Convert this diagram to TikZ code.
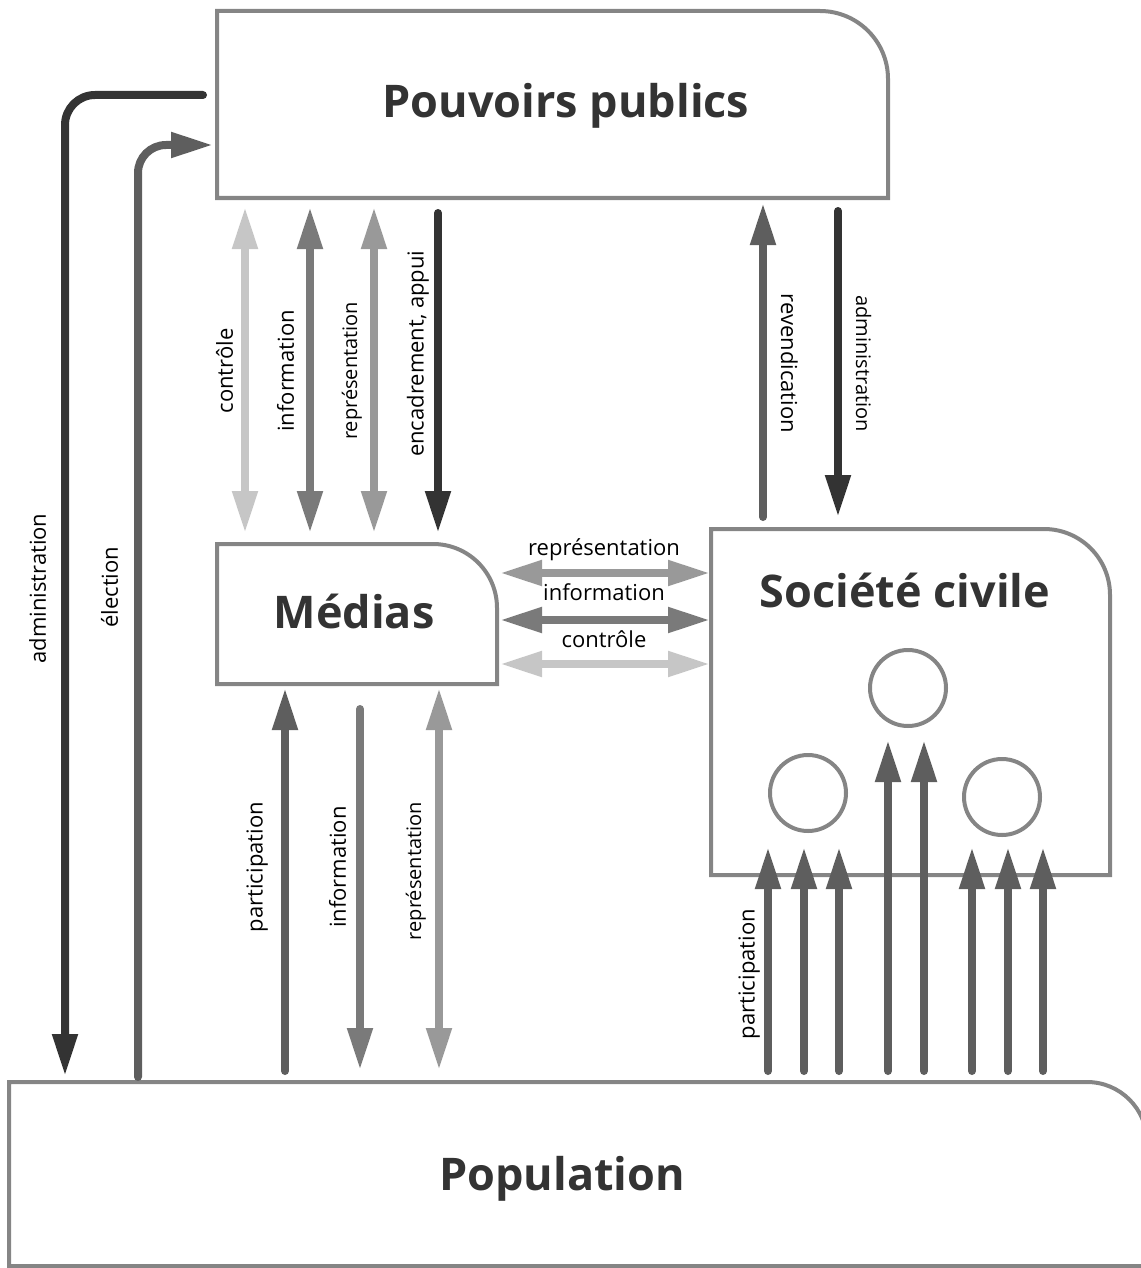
\documentclass[tikz,border=0pt]{standalone}
\usepackage{fontspec}
\setmainfont{Open Sans}
\usetikzlibrary{arrows.meta}
\definecolor{inkdark}{HTML}{333333}
\definecolor{inkmid}{HTML}{5E5E5E}
\definecolor{inkinfo}{HTML}{7A7A7A}
\definecolor{inkrep}{HTML}{999999}
\definecolor{inkctrl}{HTML}{C6C6C6}
\definecolor{frame}{HTML}{858585}
\tikzset{
	area/.style={inner sep=0pt, outer sep=0pt},
	title/.style={font=\bfseries\fontsize{45}{54}\selectfont, text=inkdark, anchor=base, inner sep=0pt},
	lbl/.style={font=\fontsize{22}{26}\selectfont, text=black, inner sep=10pt},
	lblsm/.style={font=\fontsize{20}{24}\selectfont},
	vup/.style={lbl, rotate=90, anchor=south},
	vdown/.style={lbl, rotate=-90, anchor=south},
	flow/.style={line width=8pt, line cap=round, -{Triangle[length=42pt,width=24pt]}},
	twoway/.style={line width=8pt, {Triangle[length=42pt,width=24pt]}-{Triangle[length=42pt,width=24pt]}},
	frameline/.style={draw=frame, line width=4pt},
	ring/.style={circle, frameline, minimum size=76pt, inner sep=0pt, outer sep=0pt},
	gap/.style 2 args={shorten <=#1, shorten >=#2}
}
\newcommand{\cornerbox}[2]{%
	\draw[frameline] (#1.south west) -- (#1.north west) -- ([xshift=-#2pt]#1.north east)
		arc[start angle=90, end angle=0, radius=#2pt] -- (#1.south east) -- cycle;}
\begin{document}
\begin{tikzpicture}[x=1pt, y=1pt]
								\useasboundingbox (0,0) rectangle (1140,-1268);
								\node[area, minimum width=671pt, minimum height=187pt] (pp) at (552.5,-104.5) {};
								\node[area, minimum width=280pt, minimum height=140pt] (md) at (357,-614) {};
								\node[area, minimum width=399pt, minimum height=346pt] (sc) at (910.5,-702) {};
								\node[area, minimum width=1138pt, minimum height=184pt] (pop) at (578,-1174) {};
								\cornerbox{pp}{68}
								\cornerbox{md}{64}
								\cornerbox{sc}{66}
								\cornerbox{pop}{60}
								\node[title] (ppt) at (566,-118) {Pouvoirs publics};
								\node[title] (mdt) at (354,-628) {Médias};
								\node[title] (sct) at (905,-607) {Société civile};
								\node[title] (popt) at (562,-1190) {Population};
								\node[ring] (ct) at (908,-688) {};
								\node[ring] (cl) at (808,-793) {};
								\node[ring] (cr) at (1002,-797) {};
								\draw[flow, inkdark, rounded corners=30pt, gap={14pt}{6pt}] ([yshift=9.5pt]pp.west) -| (pop.north -| 65,0)
									node[pos=0.75, vup, inner sep=15pt] {administration};
								\draw[flow, inkmid, rounded corners=28pt, gap={5pt}{4pt}] (pop.north -| 138,0) |- ([yshift=-40.5pt]pp.west)
									node[pos=0.264, vup, inner sep=16pt] {élection};
								\draw[twoway, inkctrl, gap={11pt}{9pt}] (md.north -| 245,0) -- (pp.south -| 245,0) node[midway, vup, inner sep=8pt] {contrôle};
								\draw[twoway, inkinfo, gap={11pt}{9pt}] (md.north -| 310,0) -- (pp.south -| 310,0) node[midway, vup, inner sep=12pt] {information};
								\draw[twoway, inkrep, gap={11pt}{9pt}] (md.north -| 374,0) -- (pp.south -| 374,0) node[midway, vup, lblsm, inner sep=8pt] {représentation};
								\draw[flow, inkdark, gap={15pt}{11pt}] (pp.south -| 438,0) -- (md.north -| 438,0) node[pos=0.45, vup, inner sep=5pt] {encadrement, appui};
								\draw[flow, inkmid, gap={12pt}{5pt}] (sc.north -| 763,0) -- (pp.south -| 763,0) node[midway, vdown, inner sep=14pt] {revendication};
								\draw[flow, inkdark, gap={13pt}{12pt}] (pp.south -| 838,0) -- (sc.north -| 838,0) node[midway, vdown, lblsm, inner sep=14pt] {administration};
								\draw[twoway, inkrep, gap={3pt}{1pt}] (md.east |- 0,-573) -- (sc.west |- 0,-573) node[midway, lbl, anchor=south, inner sep=8pt] {représentation};
								\draw[twoway, inkinfo, gap={3pt}{1pt}] (md.east |- 0,-620) -- (sc.west |- 0,-620) node[midway, lbl, anchor=south, inner sep=15pt] {information};
								\draw[twoway, inkctrl, gap={3pt}{1pt}] (md.east |- 0,-664) -- (sc.west |- 0,-664) node[midway, lbl, anchor=south, inner sep=12pt] {contrôle};
								\draw[flow, inkmid, gap={11pt}{4pt}] (pop.north -| 285,0) -- (md.south -| 285,0) node[pos=0.54, vup, inner sep=13pt] {participation};
								\draw[flow, inkinfo, gap={25pt}{12pt}] (md.south -| 360,0) -- (pop.north -| 360,0) node[pos=0.46, vup, inner sep=10pt] {information};
								\draw[twoway, inkrep, gap={4pt}{12pt}] (md.south -| 439,0) -- (pop.north -| 439,0) node[pos=0.47, vup, lblsm, inner sep=9pt] {représentation};
								\foreach \x in {768,804,839}
									\draw[flow, inkmid, gap={11pt}{16pt}] (pop.north -| \x,0) -- (cl.south -| \x,0);
								\foreach \x in {888,924}
									\draw[flow, inkmid, gap={11pt}{14pt}] (pop.north -| \x,0) -- (ct.south -| \x,0);
								\foreach \x in {972,1008,1043}
									\draw[flow, inkmid, gap={11pt}{12pt}] (pop.north -| \x,0) -- (cr.south -| \x,0);
								\path (pop.north -| 768,0) -- (cl.south -| 768,0) node[pos=0.43, vup, inner sep=8pt] {participation};
							\end{tikzpicture}
\end{document}
